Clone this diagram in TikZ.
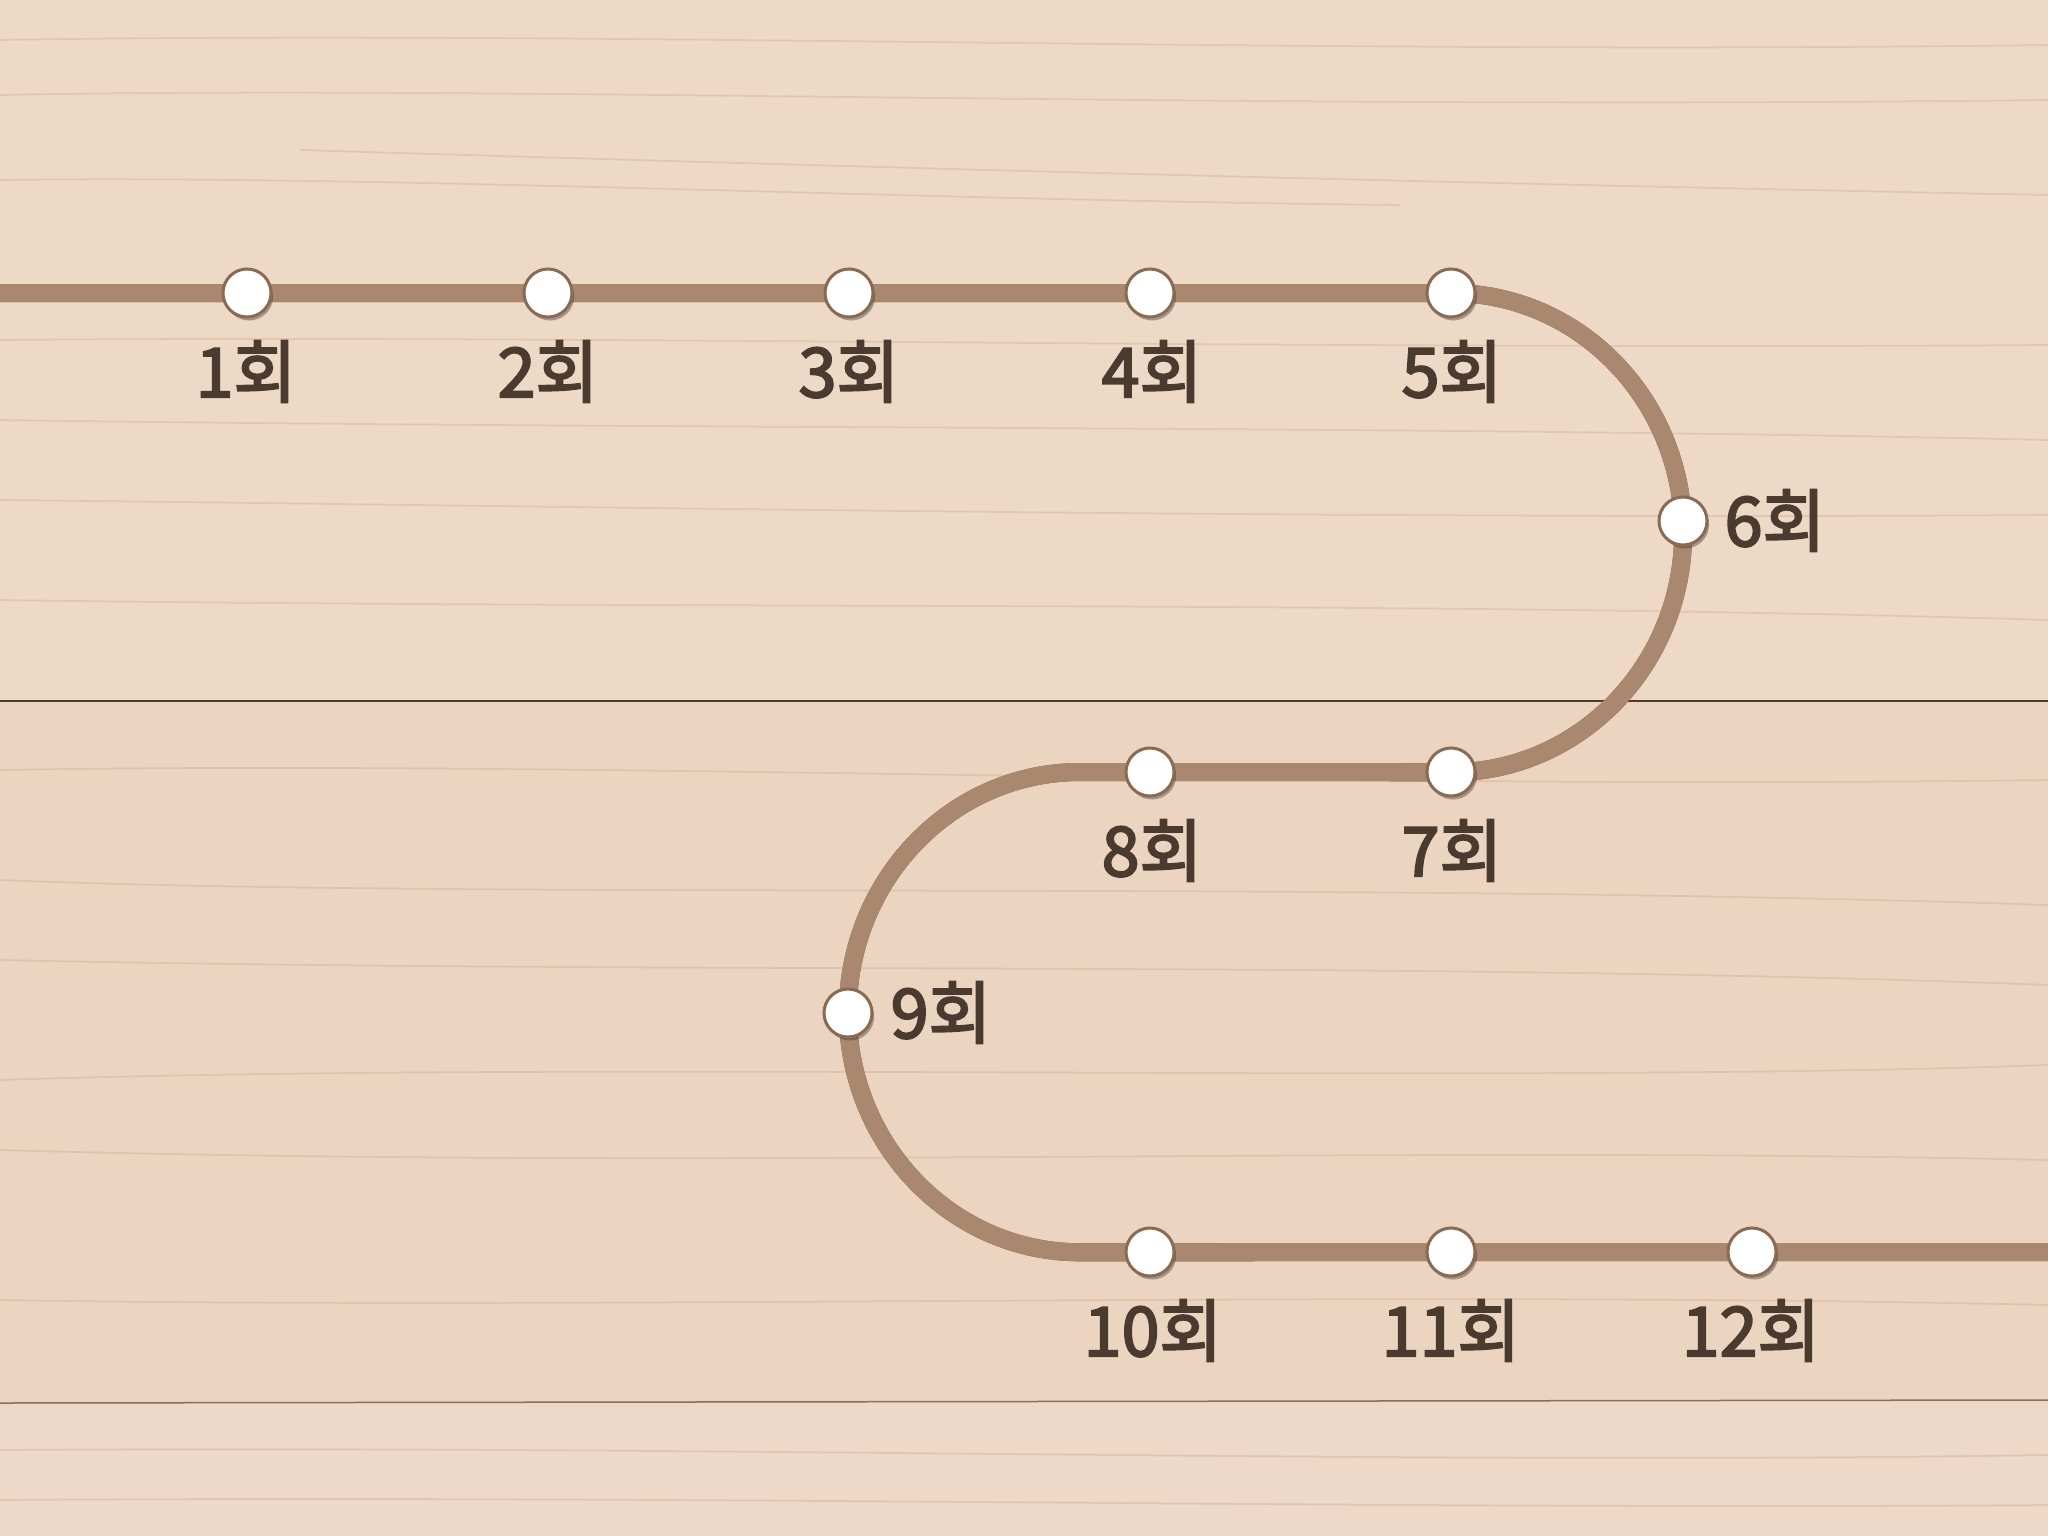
\documentclass[tikz,border=0pt]{standalone}
\usepackage{fontspec}
\newfontfamily\krfont{Noto Sans CJK KR}[FakeBold=3]
\usetikzlibrary{shadows}
\definecolor{plankA}{HTML}{EED9C7}
\definecolor{plankB}{HTML}{ECD5C0}
\definecolor{plankC}{HTML}{EED8C7}
\definecolor{grainc}{HTML}{C59C7C}
\definecolor{trackdark}{HTML}{6E523F}
\definecolor{trackfill}{HTML}{A9886F}
\definecolor{dotrim}{HTML}{8A6A52}
\definecolor{labelc}{HTML}{4B3A2F}
\definecolor{seamA}{HTML}{4E3A28}
\definecolor{seamB}{HTML}{8E6E58}
\tikzset{
  grain/.style={draw=grainc, line width=0.5pt, opacity=0.3},
  trackbase/.style={draw=trackdark, line width=0.18cm, yshift=0.022cm},
  trackinner/.style={draw=trackfill, line width=0.18cm},
  stop/.style={circle, minimum size=0.48cm, inner sep=0pt, fill=white, draw=dotrim,
    line width=0.03cm, drop shadow={shadow xshift=0.6pt, shadow yshift=-1pt, opacity=0.4, fill=black!80}},
  lbl/.style={text=labelc, font=\krfont\fontsize{19.4pt}{23pt}\selectfont, inner sep=0pt},
}
\begin{document}
\begin{tikzpicture}[x=0.01cm, y=0.01cm]
\useasboundingbox (0,0) rectangle (2048,-1536);
% planks
\fill[plankA] (0,0) rectangle (2048,-701);
\fill[plankB] (0,-701) rectangle (2048,-1402);
\fill[plankC] (0,-1402) rectangle (2048,-1536);
% grain
\draw[grain] (0,-40) .. controls (600,-30) and (1300,-55) .. (2048,-45);
\draw[grain] (0,-95) .. controls (500,-85) and (1200,-110) .. (2048,-100);
\draw[grain] (300,-150) .. controls (800,-165) and (1300,-180) .. (2048,-195);
\draw[grain] (0,-180) .. controls (400,-175) and (900,-200) .. (1400,-205);
\draw[grain] (0,-340) .. controls (600,-335) and (1300,-350) .. (2048,-345);
\draw[grain] (0,-420) .. controls (700,-430) and (1400,-425) .. (2048,-440);
\draw[grain] (0,-500) .. controls (500,-505) and (1300,-520) .. (2048,-515);
\draw[grain] (0,-600) .. controls (700,-610) and (1400,-600) .. (2048,-620);
\draw[grain] (0,-770) .. controls (600,-760) and (1300,-790) .. (2048,-780);
\draw[grain] (0,-880) .. controls (500,-900) and (1300,-880) .. (2048,-905);
\draw[grain] (0,-960) .. controls (700,-975) and (1400,-960) .. (2048,-985);
\draw[grain] (0,-1080) .. controls (600,-1060) and (1500,-1085) .. (2048,-1065);
\draw[grain] (0,-1150) .. controls (700,-1170) and (1400,-1145) .. (2048,-1160);
\draw[grain] (0,-1300) .. controls (600,-1310) and (1400,-1290) .. (2048,-1305);
\draw[grain] (0,-1450) .. controls (700,-1445) and (1400,-1465) .. (2048,-1455);
\draw[grain] (0,-1500) .. controls (700,-1495) and (1400,-1510) .. (2048,-1505);
% seams
\draw[seamA, line width=0.02cm] (0,-701) -- (2048,-701);
\draw[seamB, line width=0.015cm] (0,-1403) -- (2048,-1400);
% track anchors
\coordinate (start) at (0,-293);
\coordinate (c5) at (1451,-293);
\coordinate (turnL) at (1080,-772);
\coordinate (finish) at (2048,-1252);
% track
\foreach \sty in {trackbase,trackinner}{
  \draw[\sty] (start) -- (c5)
    arc[start angle=90, end angle=-90, x radius=2.32cm, y radius=2.395cm]
    -- (turnL)
    arc[start angle=90, end angle=270, x radius=2.32cm, y radius=2.40cm]
    -- (finish);
}
% stops
\node[stop] (n1) at (247,-293) {};
\node[stop] (n2) at (548,-293) {};
\node[stop] (n3) at (849,-293) {};
\node[stop] (n4) at (1150,-293) {};
\node[stop] (n5) at (1451,-293) {};
\node[stop] (n6) at (1683,-521) {};
\node[stop] (n7) at (1451,-772) {};
\node[stop] (n8) at (1150,-772) {};
\node[stop] (n9) at (848,-1013) {};
\node[stop] (n10) at (1150,-1252) {};
\node[stop] (n11) at (1451,-1252) {};
\node[stop] (n12) at (1752,-1252) {};
% labels
\node[lbl, anchor=base] (l1) at (246,-397) {1회};
\node[lbl, anchor=base] (l2) at (548,-397) {2회};
\node[lbl, anchor=base] (l3) at (849,-397) {3회};
\node[lbl, anchor=base] (l4) at (1152,-397) {4회};
\node[lbl, anchor=base] (l5) at (1452,-397) {5회};
\node[lbl, anchor=base west] (l6) at (1724,-546) {6회};
\node[lbl, anchor=base] (l7) at (1452,-876) {7회};
\node[lbl, anchor=base] (l8) at (1152,-876) {8회};
\node[lbl, anchor=base west] (l9) at (890,-1038) {9회};
\node[lbl, anchor=base] (l10) at (1153,-1356) {10회};
\node[lbl, anchor=base] (l11) at (1451,-1356) {11회};
\node[lbl, anchor=base] (l12) at (1751,-1356) {12회};
\end{tikzpicture}
\end{document}
